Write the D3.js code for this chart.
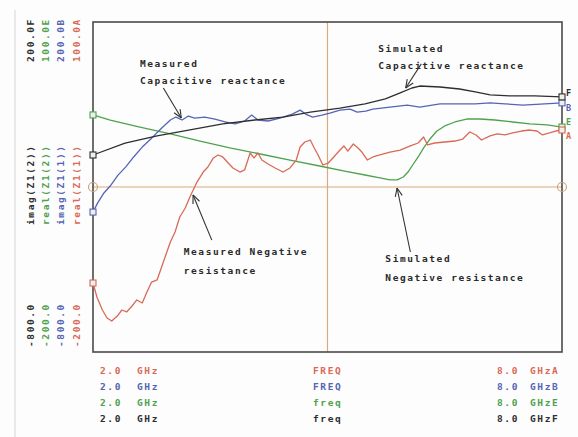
<html>
<head>
<meta charset="utf-8">
<style>
  body { margin: 0; background: #fdfdfd; }
  svg { display: block; }
  text { font-family: "DejaVu Sans Mono", monospace; font-weight: bold; font-size: 9.5px; letter-spacing: 1.6px; }
</style>
</head>
<body>
<div id="chart"></div>
<script src="https://d3js.org/d3.v7.min.js"></script>
<script>
// frequency span (GHz)
var fStart = 2.0, fStop = 8.0;

// simulated imag(Z) -- black, trace F
var simImagF = [2.00,2.41,2.82,3.24,3.66,4.07,4.43,4.78,5.16,5.48,5.74,5.93,6.08,6.18,6.44,6.69,6.89,7.08,7.33,7.65,8.00];
var simImag  = [-203,-167,-145,-127,-109,-97,-88,-73,-61,-48,-33,-15,0,6,3,-3,-12,-21,-24,-24,-27];

// measured imag(Z) -- blue, trace B
var measImagF = [2.00,2.06,2.14,2.22,2.32,2.42,2.52,2.63,2.75,2.88,2.99,3.06,3.14,3.22,3.30,3.43,3.56,3.69,3.82,3.94,4.03,4.11,4.24,4.39,4.55,4.65,4.72,4.81,4.93,5.03,5.16,5.29,5.38,5.49,5.58,5.80,6.02,6.18,6.44,6.69,6.89,7.08,7.27,7.50,7.78,8.00];
var measImag  = [-376,-348,-318,-297,-264,-239,-209,-179,-152,-121,-97,-88,-97,-85,-91,-88,-94,-103,-109,-100,-82,-97,-100,-91,-79,-67,-79,-88,-82,-76,-67,-64,-73,-70,-64,-58,-52,-58,-48,-48,-48,-45,-48,-52,-48,-45];

// simulated real(Z) -- green, trace E
var simRealF = [2.00,2.22,2.60,2.99,3.37,3.75,4.14,4.52,4.90,5.22,5.48,5.67,5.80,5.89,5.97,6.03,6.09,6.16,6.23,6.31,6.40,6.50,6.63,6.78,6.95,7.14,7.37,7.59,7.81,8.00];
var simReal  = [15.5,10.9,4.5,-1.8,-8.2,-14.5,-20,-25.5,-30.9,-35.5,-39.1,-41.8,-43.6,-43.6,-40.9,-36.4,-30,-22.7,-14.5,-6.4,0.9,5.5,9.1,11.8,11.8,10.9,9.1,7.3,6.4,4.5];

// measured real(Z) -- red, trace A
var measRealF = [2.00,2.05,2.12,2.18,2.24,2.31,2.37,2.43,2.50,2.56,2.63,2.69,2.75,2.82,2.90,2.99,3.05,3.11,3.18,3.24,3.33,3.41,3.47,3.54,3.60,3.66,3.73,3.79,3.88,3.94,4.01,4.06,4.11,4.16,4.24,4.33,4.43,4.52,4.60,4.65,4.71,4.78,4.83,4.88,4.94,5.01,5.08,5.16,5.21,5.26,5.33,5.39,5.44,5.51,5.58,5.67,5.80,5.93,6.06,6.16,6.23,6.28,6.37,6.50,6.63,6.73,6.82,6.90,6.97,7.08,7.17,7.27,7.37,7.48,7.59,7.68,7.75,7.84,7.92,8.00];
var measReal  = [-137.3,-150,-161.8,-169.1,-171.8,-167.3,-161.8,-163.6,-158.2,-152.7,-155.5,-145.5,-136.4,-134.5,-118.2,-100,-90.9,-77.3,-69.1,-59.1,-45.5,-36.4,-31.8,-23.6,-20.9,-22.7,-28.2,-32.7,-36.4,-34.5,-19.1,-23.6,-19.1,-25.5,-29.1,-32.7,-36.4,-32.7,-25.5,-13.6,-9.1,-7.3,-14.5,-20.9,-30,-28.2,-22.7,-16.4,-12.7,-17.3,-10.9,-14.5,-18.2,-25.5,-22.7,-20.9,-18.2,-16.4,-12.7,-10,-4.5,-11.8,-10,-9.1,-8.2,-6.4,0,-2.7,-7.3,-3.6,-1.8,-2.7,-0.9,0.9,1.8,0.9,-2.7,-0.9,0.9,1.8];

// axis labels per trace
var traceNames  = ["F", "E", "B", "A"];
var traceTops   = ["200.0F", "100.0E", "200.0B", "100.0A"];
var traceBottom = ["-800.0", "-200.0", "-800.0", "-200.0"];
var traceLabels = ["imag(Z1(2))", "real(Z1(2))", "imag(Z1(1))", "real(Z1(1))"];
var traceColors = ["#2e2e2e", "#4ea24e", "#5564b4", "#d86a56"];

var footerFreq  = ["2.0", "2.0", "2.0", "2.0"];
var footerName  = ["FREQ", "FREQ", "freq", "freq"];
var footerStop  = ["8.0", "8.0", "8.0", "8.0"];
var footerTrace = ["A", "B", "E", "F"];
var footerColors = ["#d86a56", "#5564b4", "#4ea24e", "#2e2e2e"];

var W = 578, H = 437;
var pL = 93, pR = 562, pT = 22, pB = 352;

var svg = d3.select("#chart").append("svg").attr("width", W).attr("height", H);

var x = d3.scaleLinear().domain([fStart, fStop]).range([pL, pR]);
var yBig = d3.scaleLinear().domain([-800, 200]).range([pB, pT]);
var ySmall = d3.scaleLinear().domain([-200, 100]).range([pB, pT]);

// faint sheet edge
svg.append("line").attr("x1", 15).attr("x2", 15).attr("y1", 10).attr("y2", H)
  .attr("stroke", "#d4d4d4").attr("stroke-width", 1);

// crosshair
svg.append("line").attr("x1", x((fStart + fStop) / 2)).attr("x2", x((fStart + fStop) / 2))
  .attr("y1", pT).attr("y2", pB).attr("stroke", "#d9aa80").attr("stroke-width", 1.2);
svg.append("line").attr("x1", pL).attr("x2", pR)
  .attr("y1", yBig(-300)).attr("y2", yBig(-300)).attr("stroke", "#d9aa80").attr("stroke-width", 1.2);

// frame
svg.append("rect").attr("x", pL).attr("y", pT).attr("width", pR - pL).attr("height", pB - pT)
  .attr("fill", "none").attr("stroke", "#4a4a4a").attr("stroke-width", 1.6);

var series = [
  { f: simRealF,  v: simReal,  y: ySmall, color: "#4ea24e", name: "E", dy: -5 },
  { f: measRealF, v: measReal, y: ySmall, color: "#d86a56", name: "A", dy: 6 },
  { f: measImagF, v: measImag, y: yBig,   color: "#5564b4", name: "B", dy: 5 },
  { f: simImagF,  v: simImag,  y: yBig,   color: "#2e2e2e", name: "F", dy: -4 }
];

series.forEach(function(s) {
  var pts = s.f.map(function(f, i) { return [f, s.v[i]]; });
  var line = d3.line().x(function(d) { return x(d[0]); }).y(function(d) { return s.y(d[1]); });
  svg.append("path").datum(pts).attr("d", line)
    .attr("fill", "none").attr("stroke", s.color).attr("stroke-width", 1.3)
    .attr("stroke-linejoin", "round");

  // end markers
  [pts[0], pts[pts.length - 1]].forEach(function(p) {
    svg.append("rect").attr("x", x(p[0]) - 3).attr("y", s.y(p[1]) - 3)
      .attr("width", 6).attr("height", 6)
      .attr("fill", "#eef0ee").attr("stroke", s.color).attr("stroke-width", 1.1);
  });
  var last = pts[pts.length - 1];
  svg.append("text").attr("x", pR + 4).attr("y", s.y(last[1]) + 3 + s.dy)
    .attr("fill", s.color).style("letter-spacing", "0px").style("font-size", "8.5px").text(s.name);
});

// crosshair end markers
[fStart, fStop].forEach(function(f) {
  svg.append("circle").attr("cx", x(f)).attr("cy", yBig(-300)).attr("r", 4.5)
    .attr("fill", "none").attr("stroke", "#c8a070").attr("stroke-width", 1.1);
});

// rotated trace labels on the left
var colX = [30, 45, 60, 76];
traceNames.forEach(function(n, i) {
  var g = svg.append("g").attr("fill", traceColors[i]);
  g.append("text").attr("transform", "translate(" + (colX[i] + 3.5) + ",62) rotate(-90)").text(traceTops[i]);
  g.append("text").attr("transform", "translate(" + (colX[i] + 3.5) + ",225) rotate(-90)").text(traceLabels[i]);
  g.append("text").attr("transform", "translate(" + (colX[i] + 3.5) + ",347) rotate(-90)").text(traceBottom[i]);
});

// footer
var rowY = [374, 390, 406, 422];
footerFreq.forEach(function(v, i) {
  var c = footerColors[i];
  svg.append("text").attr("x", 100).attr("y", rowY[i]).attr("fill", c).text(v);
  svg.append("text").attr("x", 137).attr("y", rowY[i]).attr("fill", c).text("GHz");
  svg.append("text").attr("x", 313).attr("y", rowY[i]).attr("fill", c).text(footerName[i]);
  svg.append("text").attr("x", 497).attr("y", rowY[i]).attr("fill", c).text(footerStop[i]);
  svg.append("text").attr("x", 530).attr("y", rowY[i]).attr("fill", c).text("GHz" + footerTrace[i]);
});

// annotations, placed in (GHz, imag-axis) units
var notes = [
  { lines: ["Measured", "Capacitive reactance"], at: [2.60, 73], gap: 17, from: [2.90, 0], to: [3.13, -91] },
  { lines: ["Simulated", "Capacitive reactance"], at: [5.65, 121], gap: 17, from: [6.20, 73], to: [6.00, 0] },
  { lines: ["Measured Negative", "resistance"], at: [3.16, -494], gap: 19, from: [3.52, -461], to: [3.28, -324] },
  { lines: ["Simulated", "Negative resistance"], at: [5.74, -518], gap: 19, from: [6.06, -497], to: [5.89, -303] }
];

notes.forEach(function(n) {
  var tx = x(n.at[0]), ty = yBig(n.at[1]);
  n.lines.forEach(function(t, k) {
    svg.append("text").attr("x", tx).attr("y", ty + 3.5 + k * n.gap).attr("fill", "#2a2a2a").text(t);
  });
  var x1 = x(n.from[0]), y1 = yBig(n.from[1]), x2 = x(n.to[0]), y2 = yBig(n.to[1]);
  svg.append("line").attr("x1", x1).attr("y1", y1).attr("x2", x2).attr("y2", y2)
    .attr("stroke", "#333").attr("stroke-width", 1.1);
  var a = Math.atan2(y2 - y1, x2 - x1);
  [0.4, -0.4].forEach(function(d) {
    svg.append("line").attr("x1", x2).attr("y1", y2)
      .attr("x2", x2 - 9 * Math.cos(a + d)).attr("y2", y2 - 9 * Math.sin(a + d))
      .attr("stroke", "#333").attr("stroke-width", 1.1);
  });
});
</script>
</body>
</html>
